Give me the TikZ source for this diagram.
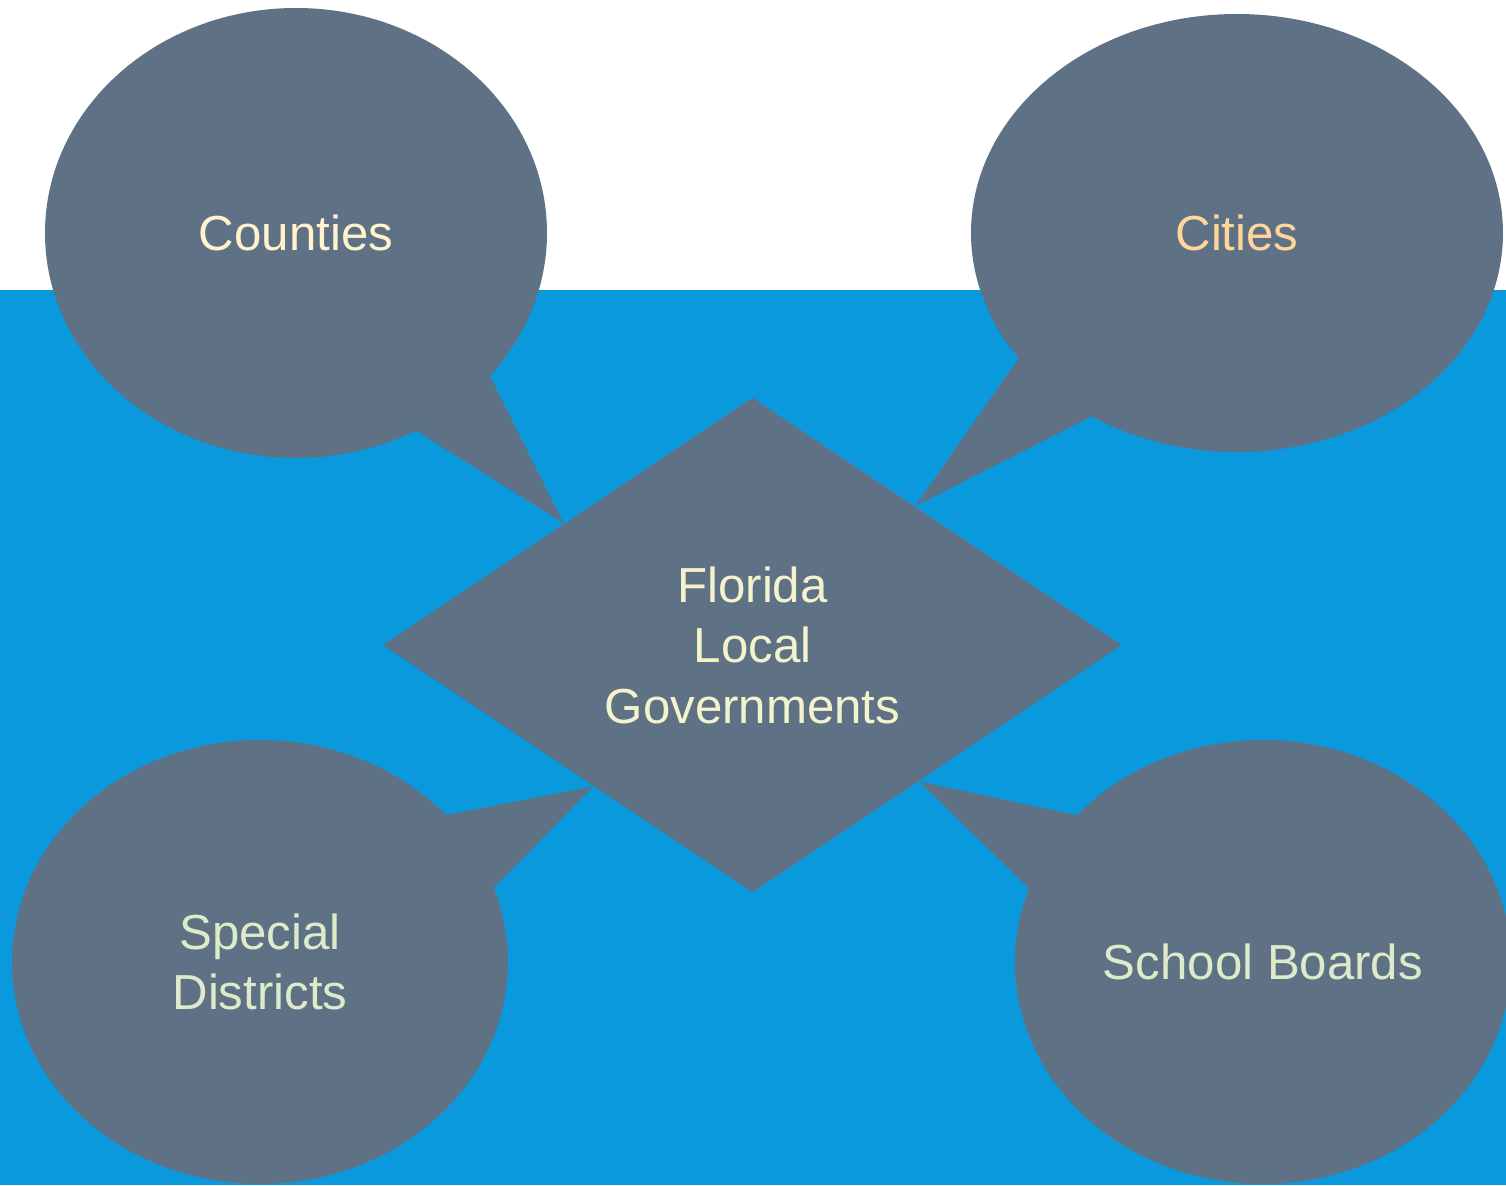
\documentclass[tikz,border=0pt]{standalone}
\usepackage{fontspec}
\setmainfont{Liberation Sans}
\usetikzlibrary{shapes.geometric,shapes.callouts,calc}

\definecolor{skyblue}{HTML}{0A99DD}
\definecolor{slate}{HTML}{5F7185}
\definecolor{creamtext}{HTML}{FFF2CC}
\definecolor{peachtext}{HTML}{FFD699}
\definecolor{lemontext}{HTML}{F4F4CC}
\definecolor{mintext}{HTML}{DDEBCA}

\begin{document}
\begin{tikzpicture}
	% Define the looks of the bubbles and the diamond
	\tikzset{
		gov bubble/.style 2 args={
			ellipse callout, fill=slate, draw=none, inner sep=0pt,
			callout pointer arc=22,
			minimum width=#1, minimum height=#2,
			align=center, font=\fontsize{14}{17.2}\selectfont
		},
		gov diamond/.style={
			diamond, fill=slate, draw=none, inner sep=0pt,
			minimum width=7.39cm, minimum height=4.95cm,
			align=center, font=\fontsize{14}{17.2}\selectfont, text=lemontext
		}
	}
	
	% Page frame: white band on top, blue below
	\useasboundingbox (0, 0) rectangle (15.06, 11.85);
	\clip (0, 0) rectangle (15.06, 11.85);
	\fill[white] (0, 8.95) rectangle (15.06, 11.85);
	\fill[skyblue] (0, 0) rectangle (15.06, 8.95);
	
	% Centre diamond
	\node[gov diamond] (local) at (7.525, 5.40) {Florida\\Local\\Governments};
	
	% Where the bubble tails meet the diamond
	\coordinate (tip counties) at ($(local.west)!0.49!(local.north)$);
	\coordinate (tip cities) at ($(local.north)!0.44!(local.east)$);
	\coordinate (tip special) at ($(local.west)!0.57!(local.south)$);
	\coordinate (tip school) at ($(local.east)!0.55!(local.south)$);
	
	% The four bubbles
	\node[gov bubble={5.02cm}{4.50cm}, text=creamtext, callout absolute pointer=(tip counties)]
		(counties) at (2.96, 9.52) {Counties};
	\node[gov bubble={5.32cm}{4.38cm}, text=peachtext, callout absolute pointer=(tip cities)]
		(cities) at (12.37, 9.52) {Cities};
	\node[gov bubble={4.96cm}{4.44cm}, text=mintext, callout absolute pointer=(tip special)]
		(special) at (2.60, 2.23) {Special\\Districts};
	\node[gov bubble={4.96cm}{4.44cm}, text=mintext, callout absolute pointer=(tip school)]
		(school) at (12.63, 2.23) {School Boards};
	
\end{tikzpicture}
\end{document}
